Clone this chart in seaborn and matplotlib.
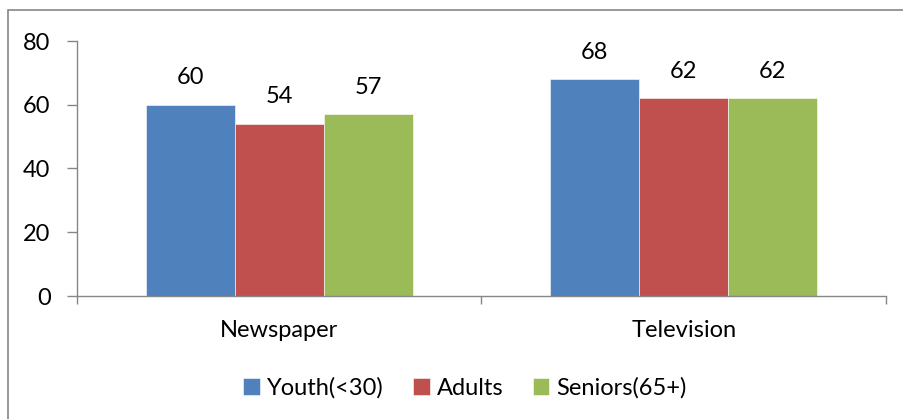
import pandas as pd
import matplotlib.pyplot as plt
import matplotlib.ticker as mticker
from matplotlib.patches import Rectangle
import seaborn as sns

# chart values
media = ["Newspaper", "Television"]
groups = ["Youth(<30)", "Adults", "Seniors(65+)"]
youth = [60, 68]
adults = [54, 62]
seniors = [57, 62]
palette = ["#4F81BD", "#C0504D", "#9BBB59"]
y_ticks = [0, 20, 40, 60, 80]

df = pd.DataFrame({
    "media": media * 3,
    "group": [g for g in groups for _ in media],
    "value": youth + adults + seniors,
})

sns.set_theme(style="white")
plt.rcParams["font.family"] = ["Lato", "DejaVu Sans"]
plt.rcParams["text.color"] = "black"
FS = 17

fig = plt.figure(figsize=(9.04, 4.19), dpi=100)
ax = fig.add_axes([77 / 904, 1 - 296 / 419, (886 - 77) / 904, (296 - 41) / 419])

sns.barplot(data=df, x="media", y="value", hue="group", hue_order=groups,
            palette=palette, width=0.66, gap=0, saturation=1,
            edgecolor="white", linewidth=0.4, ax=ax)

for cont in ax.containers:
    ax.bar_label(cont, fmt="%d", padding=12, fontsize=FS)

ax.set_ylim(0, 80)
ax.set_xlim(-0.5, 1.5)
ax.set_yticks(y_ticks)
ax.tick_params(axis="y", length=7, width=1, color="#868686", labelsize=FS,
               left=True, pad=12, labelcolor="black")
# boundaries get tick marks, category names sit between them
ax.xaxis.set_major_locator(mticker.FixedLocator([-0.5, 0.5, 1.5]))
ax.xaxis.set_major_formatter(mticker.NullFormatter())
ax.xaxis.set_minor_locator(mticker.FixedLocator([0, 1]))
ax.xaxis.set_minor_formatter(mticker.FixedFormatter(media))
ax.tick_params(axis="x", which="major", length=6, width=1, color="#868686",
               bottom=True)
ax.tick_params(axis="x", which="minor", length=0, labelsize=FS, pad=17,
               labelcolor="black")
ax.set_xlabel("")
ax.set_ylabel("")

for side in ["top", "right"]:
    ax.spines[side].set_visible(False)
for side in ["left", "bottom"]:
    ax.spines[side].set_color("#868686")
    ax.spines[side].set_linewidth(1)

ax.legend(loc="center", bbox_to_anchor=(465 / 904, 1 - 388 / 419),
          bbox_transform=fig.transFigure, ncol=3, frameon=False,
          fontsize=FS, handlelength=0.7, handleheight=0.7,
          handletextpad=0.3, columnspacing=1.25)

# chart frame (runs off the right and bottom edges)
fig.patches.append(Rectangle((8 / 904, -0.1), 1.2, 1.1 - 10 / 419 + 0.001,
                             transform=fig.transFigure, fill=False,
                             edgecolor="#868686", linewidth=1.2))

fig.savefig("out.png", dpi=100)
